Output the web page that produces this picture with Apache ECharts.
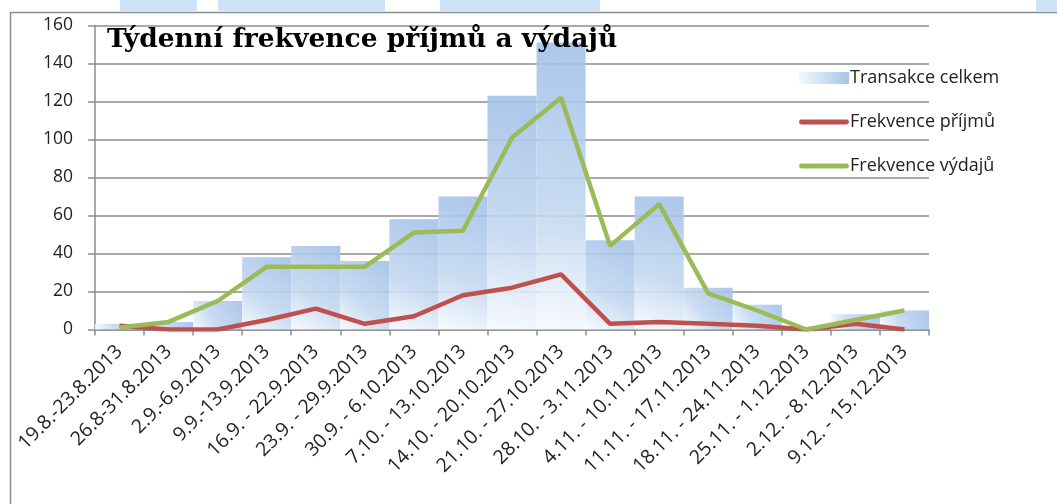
<!DOCTYPE html>
<html>
<head>
<meta charset="utf-8">
<script src="https://cdn.jsdelivr.net/npm/echarts@6/dist/echarts.min.js"></script>
<style>
  html, body { margin: 0; padding: 0; background: #fff; }
  #box01 { width: 1057px; height: 504px; }
</style>
</head>
<body>
<div id="box01"></div>
<script>
// týdny
var weeks = ['19.8.-23.8.2013', '26.8-31.8.2013', '2.9.-6.9.2013', '9.9.-13.9.2013',
    '16.9. - 22.9.2013', '23.9. - 29.9.2013', '30.9. - 6.10.2013', '7.10. - 13.10.2013',
    '14.10. - 20.10.2013', '21.10. - 27.10.2013', '28.10. - 3.11.2013', '4.11. - 10.11.2013',
    '11.11. - 17.11.2013', '18.11. - 24.11.2013', '25.11. - 1.12.2013', '2.12. - 8.12.2013',
    '9.12. - 15.12.2013'];
var transakce = [3, 4, 15, 38, 44, 36, 58, 70, 123, 151, 47, 70, 22, 13, 0, 8, 10];
var prijmy = [2, 0, 0, 5, 11, 3, 7, 18, 22, 29, 3, 4, 3, 2, 0, 3, 0];
var vydaje = [1, 4, 15, 33, 33, 33, 51, 52, 101, 122, 44, 66, 19, 10, 0, 5, 10];
var yTicks = [0, 20, 40, 60, 80, 100, 120, 140, 160];

var myChart = echarts.init(document.getElementById('box01'));

var barFill = new echarts.graphic.LinearGradient(0, 1, 1, 0, [
    {offset: 0, color: '#f8fbfe'},
    {offset: 0.4, color: '#c3d8f1'},
    {offset: 1, color: '#a3c1e8'}
]);
var legendFill = new echarts.graphic.LinearGradient(0, 0, 1, 0, [
    {offset: 0, color: '#f4f8fd'},
    {offset: 1, color: '#a6c4ea'}
]);
var lineIcon = 'path://M2.5,0 L49.5,0 A2.5,2.5 0 0 1 49.5,5 L2.5,5 A2.5,2.5 0 0 1 2.5,0 Z';

var option = {
    animation: false,
    textStyle: { fontFamily: 'Open Sans' },
    title: {
        text: 'Týdenní frekvence příjmů a výdajů',
        left: 102,
        top: 22,
        z: 20,
        textStyle: {
            fontFamily: 'DejaVu Serif',
            fontWeight: 'bold',
            fontSize: 26.5,
            color: '#000'
        }
    },
    legend: {
        orient: 'vertical',
        left: 794,
        top: 63,
        itemWidth: 50,
        itemHeight: 12,
        itemGap: 24,
        textStyle: { fontSize: 18, color: '#222', lineHeight: 20, padding: [0, 0, 0, -4] },
        data: [
            {name: 'Transakce celkem', icon: 'rect', itemStyle: {color: legendFill, opacity: 1}},
            {name: 'Frekvence příjmů', icon: lineIcon},
            {name: 'Frekvence výdajů', icon: lineIcon}
        ]
    },
    grid: {
        left: 95,
        right: 128,
        top: 25.5,
        bottom: 174.5
    },
    xAxis: {
        type: 'category',
        data: weeks,
        boundaryGap: true,
        axisLine: { lineStyle: { color: '#8c8c8c', width: 1.5 } },
        axisTick: { show: true, length: 6, lineStyle: { color: '#8c8c8c', width: 1.5 } },
        axisLabel: { rotate: 45, interval: 0, fontSize: 19.5, color: '#222', margin: 19 }
    },
    yAxis: {
        type: 'value',
        min: yTicks[0],
        max: yTicks[yTicks.length - 1],
        interval: 20,
        axisLine: { show: true, lineStyle: { color: '#8c8c8c', width: 1.5 } },
        axisTick: { show: true, length: 7, lineStyle: { color: '#8c8c8c', width: 1.5 } },
        axisLabel: { fontSize: 17.5, color: '#222', margin: 22 },
        splitLine: { lineStyle: { color: '#8c8c8c', width: 1.5 } }
    },
    graphic: [
        {type: 'rect', shape: {x: 120, y: 0, width: 77, height: 11}, style: {fill: '#cfe3f8'}},
        {type: 'rect', shape: {x: 218, y: 0, width: 167, height: 11}, style: {fill: '#cfe3f8'}},
        {type: 'rect', shape: {x: 440, y: 0, width: 160, height: 11}, style: {fill: '#cfe3f8'}},
        {type: 'rect', shape: {x: 1036, y: 0, width: 21, height: 11}, style: {fill: '#cfe3f8'}},
        {type: 'line', shape: {x1: 10, y1: 12.5, x2: 1057, y2: 12.5}, style: {stroke: '#8c8c8c', lineWidth: 1.5}},
        {type: 'line', shape: {x1: 10.5, y1: 12, x2: 10.5, y2: 504}, style: {stroke: '#8c8c8c', lineWidth: 1.5}}
    ],
    series: [
        {
            name: 'Transakce celkem',
            type: 'bar',
            data: transakce,
            barCategoryGap: '0%',
            itemStyle: { color: barFill, opacity: 0.9 }
        },
        {
            name: 'Frekvence příjmů',
            type: 'line',
            data: prijmy,
            showSymbol: false,
            color: '#c0504d',
            lineStyle: { width: 4.5, color: '#c0504d' }
        },
        {
            name: 'Frekvence výdajů',
            type: 'line',
            data: vydaje,
            showSymbol: false,
            color: '#9bbb59',
            lineStyle: { width: 4.5, color: '#9bbb59' }
        }
    ]
};
myChart.setOption(option);
</script>
</body>
</html>
